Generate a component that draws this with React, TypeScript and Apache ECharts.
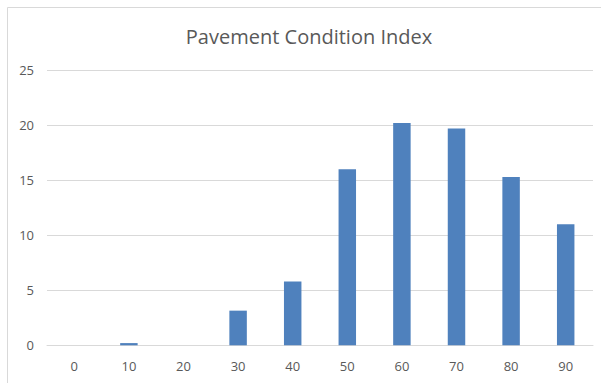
import React, { useEffect, useRef } from "react";
import * as echarts from "echarts";

const categories = ["0", "10", "20", "30", "40", "50", "60", "70", "80", "90"];
const values = [0, 0.2, 0, 3.15, 5.8, 16.0, 20.2, 19.7, 15.3, 11.0];
const titleText = "Pavement Condition Index";

export default function App() {
  const ref = useRef<HTMLDivElement>(null);
  useEffect(() => {
    if (!ref.current) return;
    const chart = echarts.init(ref.current, undefined, { renderer: "svg" });
    chart.setOption({
      animation: false,
      backgroundColor: "#ffffff",
      title: {
        text: titleText,
        left: 304,
        textAlign: "center",
        top: 21,
        textStyle: { fontFamily: "Open Sans", fontSize: 20, fontWeight: "normal", color: "#595959" },
      },
      graphic: [
        {
          type: "rect",
          shape: { x: 7.5, y: 7.5, width: 700, height: 500 },
          style: { fill: "none", stroke: "#d9d9d9", lineWidth: 1 },
          silent: true,
        },
      ],
      grid: { left: 47, right: 8, top: 70.3, bottom: 37.7 },
      xAxis: {
        type: "category",
        data: categories,
        axisLine: { lineStyle: { color: "#d9d9d9" } },
        axisTick: { show: false },
        axisLabel: { color: "#595959", fontFamily: "Open Sans", fontSize: 13, margin: 14 },
      },
      yAxis: {
        type: "value",
        min: 0,
        max: 25,
        interval: 5,
        axisLine: { show: false },
        axisTick: { show: false },
        splitLine: { lineStyle: { color: "#d9d9d9" } },
        axisLabel: { color: "#595959", fontFamily: "Open Sans", fontSize: 13, margin: 13, align: "right" },
      },
      series: [
        {
          type: "bar",
          data: values,
          barWidth: "32%",
          itemStyle: { color: "#4f81bd" },
        },
      ],
    });
    return () => chart.dispose();
  }, []);
  return <div ref={ref} style={{ position: "absolute", left: 0, top: 0, width: 601, height: 383 }} />;
}
